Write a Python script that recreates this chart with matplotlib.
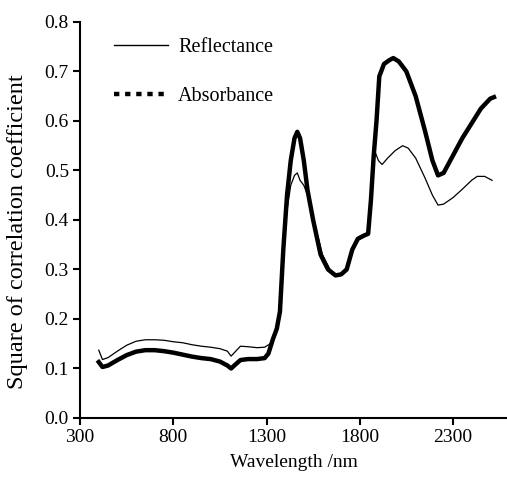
import matplotlib.pyplot as plt
from matplotlib.lines import Line2D

plt.rcParams['font.family'] = ['Liberation Serif', 'DejaVu Serif']

# Reflectance (thin line)
refl_nm = [400, 420, 450, 500, 550, 600, 650, 700, 750, 800, 850, 900, 950, 1000,
           1050, 1090, 1110, 1130, 1160, 1200, 1250, 1290, 1320, 1345, 1370, 1390,
           1410, 1430, 1450, 1465, 1480, 1500, 1530, 1560, 1600, 1640, 1670, 1700,
           1730, 1760, 1790, 1810, 1840, 1860, 1875, 1885, 1900, 1920, 1950, 1990,
           2030, 2060, 2100, 2150, 2190, 2220, 2250, 2300, 2350, 2400, 2430, 2470, 2510]
refl_r2 = [0.137, 0.118, 0.122, 0.135, 0.147, 0.155, 0.158, 0.158, 0.157, 0.154, 0.152,
           0.148, 0.145, 0.143, 0.140, 0.135, 0.125, 0.133, 0.145, 0.144, 0.142, 0.143,
           0.150, 0.175, 0.215, 0.330, 0.420, 0.470, 0.490, 0.495, 0.480, 0.470, 0.440,
           0.390, 0.330, 0.300, 0.288, 0.290, 0.305, 0.340, 0.360, 0.363, 0.370, 0.420,
           0.520, 0.535, 0.520, 0.512, 0.525, 0.540, 0.550, 0.545, 0.525, 0.485, 0.450,
           0.430, 0.432, 0.445, 0.462, 0.480, 0.488, 0.488, 0.480]

# Absorbance (thick line)
abs_nm = [400, 420, 450, 500, 550, 600, 650, 700, 750, 800, 850, 900, 950, 1000,
          1050, 1090, 1110, 1130, 1160, 1200, 1250, 1290, 1310, 1335, 1355, 1372, 1390,
          1410, 1430, 1450, 1465, 1480, 1500, 1520, 1550, 1590, 1630, 1670, 1700,
          1730, 1760, 1790, 1820, 1845, 1860, 1875, 1890, 1905, 1930, 1960, 1980,
          2010, 2050, 2100, 2150, 2190, 2220, 2250, 2300, 2350, 2400, 2450, 2500, 2520]
abs_r2 = [0.113, 0.103, 0.106, 0.117, 0.127, 0.134, 0.137, 0.137, 0.135, 0.132, 0.128,
          0.124, 0.121, 0.119, 0.114, 0.106, 0.100, 0.107, 0.117, 0.119, 0.119, 0.121,
          0.130, 0.160, 0.180, 0.215, 0.340, 0.450, 0.520, 0.565, 0.578, 0.565, 0.520,
          0.460, 0.400, 0.330, 0.300, 0.288, 0.290, 0.300, 0.340, 0.362, 0.368, 0.372,
          0.440, 0.530, 0.600, 0.690, 0.715, 0.723, 0.727, 0.720, 0.700, 0.650, 0.580,
          0.520, 0.490, 0.495, 0.530, 0.565, 0.595, 0.625, 0.645, 0.648]

xticks = [300, 800, 1300, 1800, 2300]
yticks = [0.0, 0.1, 0.2, 0.3, 0.4, 0.5, 0.6, 0.7, 0.8]

fig = plt.figure(figsize=(5.07, 4.87), dpi=100)
ax = fig.add_axes([0.158, 0.1417, 0.842, 0.8133])

ax.plot(refl_nm, refl_r2, color='black', lw=0.9)
ax.plot(abs_nm, abs_r2, color='black', lw=3.2, solid_joinstyle='round')

ax.set_xlim(300, 2590)
ax.set_ylim(0, 0.8)
ax.set_xticks(xticks)
ax.set_yticks(yticks)
ax.set_yticklabels([f'{v:.1f}' for v in yticks])
ax.tick_params(direction='out', length=5, width=1.5, labelsize=14, pad=3)
for side in ('top', 'right'):
    ax.spines[side].set_visible(False)
for side in ('left', 'bottom'):
    ax.spines[side].set_linewidth(1.5)

ax.set_xlabel('Wavelength /nm', fontsize=14, labelpad=6)
ax.set_ylabel('Square of correlation coefficient', fontsize=17.5)
ax.yaxis.set_label_coords(-0.122, 0.47)

handles = [Line2D([], [], color='black', lw=1.0),
           Line2D([], [], color='black', lw=3.2, linestyle=(0, (1.2, 1.3)))]
ax.legend(handles, ['Reflectance', 'Absorbance'], loc='upper left',
          bbox_to_anchor=(0.055, 0.985), frameon=False, fontsize=14.5,
          handlelength=2.7, handletextpad=0.5, labelspacing=1.5, borderpad=0)

fig.savefig('out.png', dpi=100)
